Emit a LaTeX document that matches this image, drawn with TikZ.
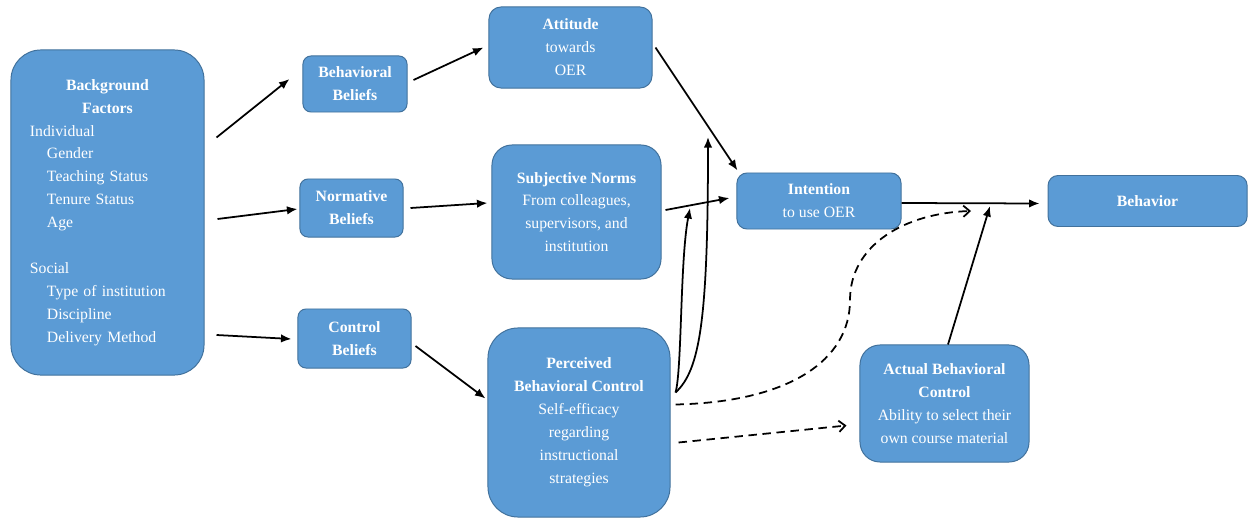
\documentclass[tikz,border=0pt]{standalone}
\usepackage{fontspec}
\setmainfont{Liberation Serif}
\usepackage{tikz}
\usetikzlibrary{positioning, shapes, arrows.meta}

\definecolor{boxfill}{HTML}{5B9BD5}
\definecolor{boxline}{HTML}{41719C}

\begin{document}
\begin{tikzpicture}[x=0.025cm, y=-0.025cm]
% Define block styles
\tikzstyle{block} = [rectangle, draw=boxline, line width=0.7pt, fill=boxfill,
    text=white, align=center, inner sep=0pt, rounded corners=0.2cm,
    font=\fontsize{11.2}{16.3}\selectfont]
\tikzstyle{line} = [draw, line width=1.25pt, -{Latex[length=7.5pt,width=6pt]}]
\tikzstyle{dashline} = [draw, line width=1.25pt, dash pattern=on 6pt off 4pt,
    -{Straight Barb[length=4.5pt,width=8pt]}]
    \useasboundingbox (0,0) rectangle (1248,518);
    % Place nodes
    \node [block, minimum width=4.825cm, minimum height=8.125cm, text width=3.875cm,
        align=left, rounded corners=0.75cm] (bg) at (107.5,212.5)
        {\makebox[3.875cm]{\bfseries Background}\\
         \makebox[3.875cm]{\bfseries Factors}\\
         Individual\\
         \hspace*{0.425cm}Gender\\
         \hspace*{0.425cm}Teaching Status\\
         \hspace*{0.425cm}Tenure Status\\
         \hspace*{0.425cm}Age\\[16.3pt]
         Social\\
         \hspace*{0.425cm}Type of institution\\
         \hspace*{0.425cm}Discipline\\
         \hspace*{0.425cm}Delivery Method};
    \node [block, minimum width=2.575cm, minimum height=1.45cm] (normative) at (351.5,208)
        {\textbf{Normative}\\\textbf{Beliefs}};
    \node [block, minimum width=2.6cm, minimum height=1.4cm] (behavioral) at (355,84)
        {\textbf{Behavioral}\\\textbf{Beliefs}};
    \node [block, minimum width=2.825cm, minimum height=1.475cm] (control) at (354.5,338.5)
        {\textbf{Control}\\\textbf{Beliefs}};
    \node [block, minimum width=4.075cm, minimum height=2.025cm, rounded corners=0.3cm] (attitude) at (570.5,47.5)
        {\textbf{Attitude}\\towards\\OER};
    \node [block, minimum width=4.225cm, minimum height=3.35cm, rounded corners=0.5cm] (subjective) at (576.5,212)
        {\textbf{Subjective Norms}\\From colleagues,\\supervisors, and\\institution};
    \node [block, minimum width=4.55cm, minimum height=4.725cm, rounded corners=0.75cm] (pbc) at (579,422.5)
        {\textbf{Perceived}\\\textbf{Behavioral Control}\\Self-efficacy\\regarding\\instructional\\strategies};
    \node [block, minimum width=4.1cm, minimum height=1.4cm, rounded corners=0.25cm] (intention) at (819,201)
        {\textbf{Intention}\\to use OER};
    \node [block, minimum width=4.975cm, minimum height=1.275cm, rounded corners=0.25cm,
        right of=intention, node distance=8.2125cm] (behavior) {\textbf{Behavior}};
    \node [block, minimum width=4.225cm, minimum height=2.925cm, rounded corners=0.5cm] (actual) at (944.5,403.5)
        {\textbf{Actual Behavioral}\\\textbf{Control}\\Ability to select their\\own course material};
    % Free ends of connectors
    \coordinate (tipA) at (708,137);
    \coordinate (tipB) at (690,208);
    \coordinate (tipC) at (971,211);
    \coordinate (tipD) at (990,206);
    % Draw edges
    \path [line] ([shift={(12,-75)}]bg.east) -- ([shift={(-13,-5)}]behavioral.west);
    \path [line] ([shift={(13,6.5)}]bg.east) -- ([shift={(-2,1)}]normative.west);
    \path [line] ([shift={(12,122.5)}]bg.east) -- ([shift={(-6,0.5)}]control.west);
    \path [line] ([shift={(6,-4)}]behavioral.east) -- ([shift={(-5,0)}]attitude.west);
    \path [line] ([shift={(7,0)}]normative.east) -- ([shift={(-4,-9)}]subjective.west);
    \path [line] ([shift={(4,7.5)}]control.east) -- ([shift={(-2,-24)}]pbc.west);
    \path [line] ([shift={(3,0)}]attitude.east) -- ([shift={(1,-2)}]intention.north west);
    \path [line] ([shift={(4,-2)}]subjective.east) -- ([shift={(-7,-3)}]intention.west);
    \path [line] ([shift={(5,-30)}]pbc.east) .. controls (700,370) and (708,320) .. (tipA);
    \path [line] ([shift={(5,-30)}]pbc.east) .. controls (682,370) and (680,260) .. (tipB);
    \path [dashline] ([shift={(5,-18)}]pbc.east) .. controls (790,402) and (850,360) .. (850,300)
        .. controls (850,245) and (905,213) .. (tipC);
    \path [dashline] ([shift={(8,20)}]pbc.east) -- ([shift={(-13,22)}]actual.west);
    \path [line] ([shift={(3.5,0)}]actual.north) -- (tipD);
    \path [line] ([shift={(0,2)}]intention.east) -- ([shift={(-8,2.5)}]behavior.west);
\end{tikzpicture}
\end{document}
